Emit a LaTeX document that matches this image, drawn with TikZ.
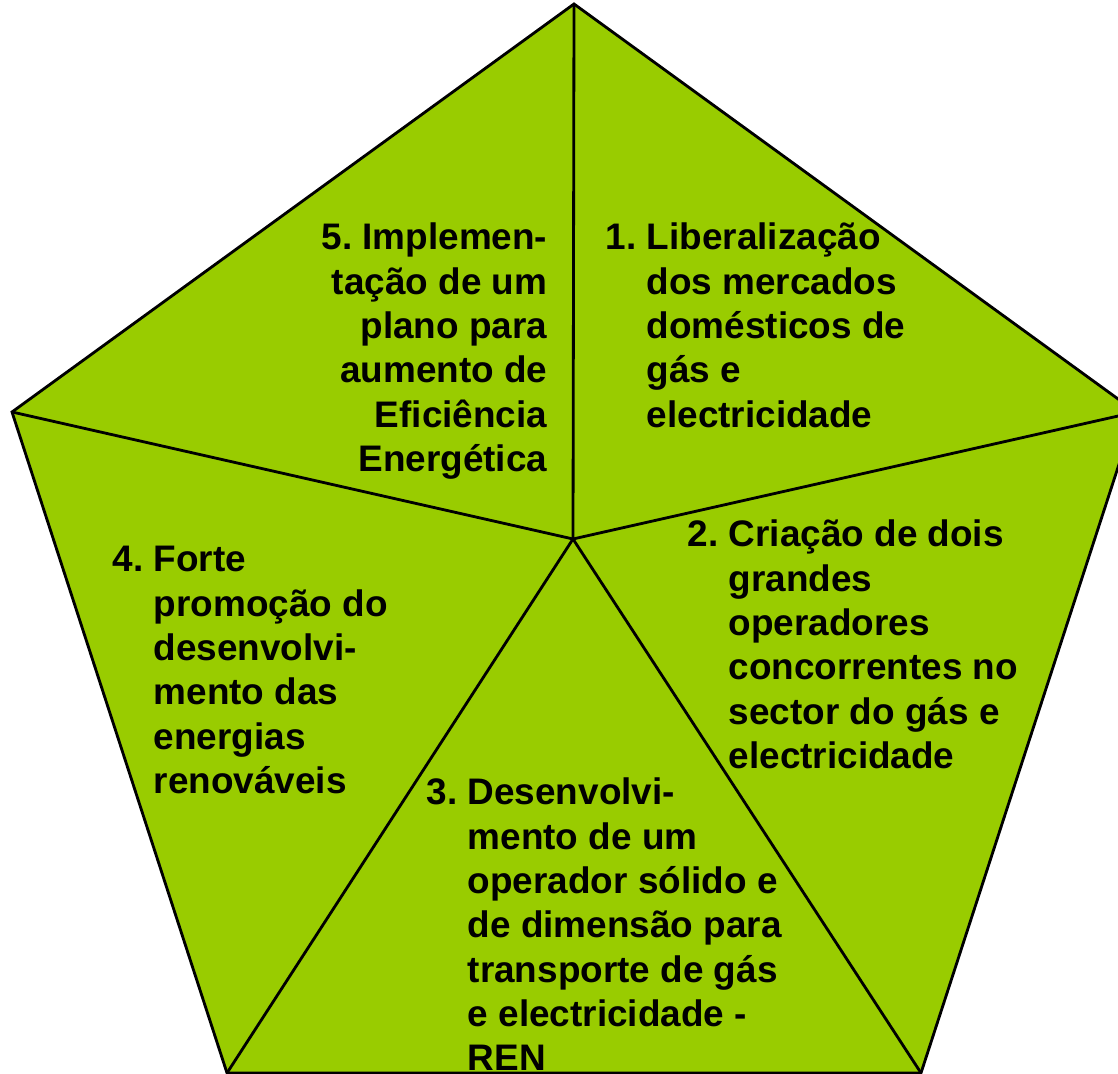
\documentclass[tikz,border=0pt]{standalone}
\usepackage{fontspec}
\setmainfont{Liberation Sans}
\usepackage{tikz}
\usetikzlibrary{calc}

\definecolor{leafgreen}{RGB}{153,204,0}
\frenchspacing

\begin{document}
\begin{tikzpicture}[
    x=0.01cm, y=-0.01cm,
    sector/.style={fill=leafgreen, draw=black, line width=0.8pt, line join=miter},
    spoke/.style={draw=black, line width=0.8pt},
    itemtext/.style={inner sep=0pt, font=\fontsize{10.5}{12.6}\selectfont\bfseries}
]
\useasboundingbox (0,0) rectangle (1118,1074);
\clip (0,0) rectangle (1118,1074);

% pentagon corners and hub
\coordinate (top) at (574,4);
\coordinate (right) at (1136,412);
\coordinate (botright) at (921,1073);
\coordinate (botleft) at (227,1073);
\coordinate (left) at (12,412);
\coordinate (hub) at (573,539);

\path[sector] (top) -- (right) -- (botright) -- (botleft) -- (left) -- cycle;
\draw[spoke] (hub) -- (top);
\draw[spoke] (hub) -- (right);
\draw[spoke] (hub) -- (botright);
\draw[spoke] (hub) -- (botleft);
\draw[spoke] (hub) -- (left);

% texts
\node[itemtext, anchor=base west] (one) at (605,250)
  {\begin{tabular}[t]{@{}l@{~}l@{}}1. & Liberalização\\ & dos mercados\\ & domésticos de\\ & gás e\\ & electricidade\end{tabular}};
\node[itemtext, anchor=base west] (two) at (687,547)
  {\begin{tabular}[t]{@{}l@{~}l@{}}2. & Criação de dois\\ & grandes\\ & operadores\\ & concorrentes no\\ & sector do gás e\\ & electricidade\end{tabular}};
\node[itemtext, anchor=base west] (three) at (426,805)
  {\begin{tabular}[t]{@{}l@{~}l@{}}3. & Desenvolvi-\\ & mento de um\\ & operador sólido e\\ & de dimensão para\\ & transporte de gás\\ & e electricidade -\\ & REN\end{tabular}};
\node[itemtext, anchor=base west] (four) at (112,572)
  {\begin{tabular}[t]{@{}l@{~}l@{}}4. & Forte\\ & promoção do\\ & desenvolvi-\\ & mento das\\ & energias\\ & renováveis\end{tabular}};
\node[itemtext, anchor=base east] (five) at (548,250)
  {\begin{tabular}[t]{@{}r@{}}5. Implemen-\\tação de um\\plano para\\aumento de\\Eficiência\\Energética\end{tabular}};
\end{tikzpicture}
\end{document}
